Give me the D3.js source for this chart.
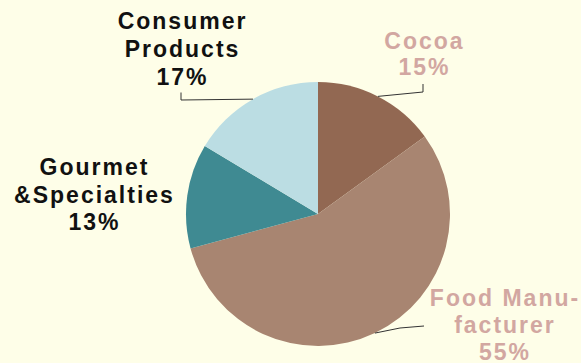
<!DOCTYPE html>
<html>
<head>
<meta charset="utf-8">
<script src="https://cdn.jsdelivr.net/npm/d3@7"></script>
<style>
  html, body { margin: 0; padding: 0; background: #FEFEE8; }
  svg { display: block; }
  text { font-family: "Liberation Sans", Arial, sans-serif; font-weight: bold; font-size: 23px; letter-spacing: 2px; }
</style>
</head>
<body>
<svg id="chart" width="581" height="363"></svg>
<script>
// Data
const categories = ["Cocoa", "Food Manufacturer", "Gourmet &Specialties", "Consumer Products"];
const values = [15, 55.8, 12.8, 16.4];           // slice sizes as drawn
const percentLabels = ["15%", "55%", "13%", "17%"]; // printed labels
const nameLines = [["Cocoa"], ["Food Manu-", "facturer"], ["Gourmet", "&Specialties"], ["Consumer", "Products"]];

// Styling / layout
const colors = ["#926852", "#A88571", "#3F8A92", "#BBDDE3"];
const labelColors = ["#D2A7A1", "#D2A7A1", "#111111", "#111111"];
const width = 581, height = 363;
const cx = 318, cy = 214, r = 132;
// label anchor (center x, first baseline y) and leader elbow points
const labelPos = [
  {x: 424.5, y: 48.5, lh: 26.5, leader: [[423, 92], [423, 84]]},
  {x: 505, y: 306, lh: 27, leader: [[400, 328], [424, 326]]},
  {x: 94.5, y: 175, lh: 27.5, leader: null},
  {x: 182.5, y: 29, lh: 27.8, leader: [[181, 100], [181, 92.5]]}
];

const svg = d3.select("#chart");
svg.append("rect").attr("width", width).attr("height", height).attr("fill", "#FEFEE8");

const pie = d3.pie().sort(null).value(d => d);
const arcs = pie(values);
const arc = d3.arc().innerRadius(0).outerRadius(r);

const g = svg.append("g").attr("transform", `translate(${cx},${cy})`);
g.selectAll("path").data(arcs).enter().append("path")
  .attr("d", arc)
  .attr("fill", (d, i) => colors[i]);

// leader lines
arcs.forEach((a, i) => {
  const lp = labelPos[i];
  if (!lp.leader) return;
  const mid = (a.startAngle + a.endAngle) / 2;
  const sx = cx + r * Math.sin(mid), sy = cy - r * Math.cos(mid);
  const pts = [[sx, sy]].concat(lp.leader);
  svg.append("path")
    .attr("d", d3.line()(pts))
    .attr("fill", "none")
    .attr("stroke", "#333")
    .attr("stroke-width", 1);
});

// labels
categories.forEach((c, i) => {
  const lp = labelPos[i];
  const lines = nameLines[i].concat([percentLabels[i]]);
  const t = svg.append("text")
    .attr("text-anchor", "middle")
    .attr("fill", labelColors[i]);
  lines.forEach((ln, j) => {
    t.append("tspan").attr("x", lp.x).attr("y", lp.y + j * lp.lh).text(ln);
  });
});
</script>
</body>
</html>
